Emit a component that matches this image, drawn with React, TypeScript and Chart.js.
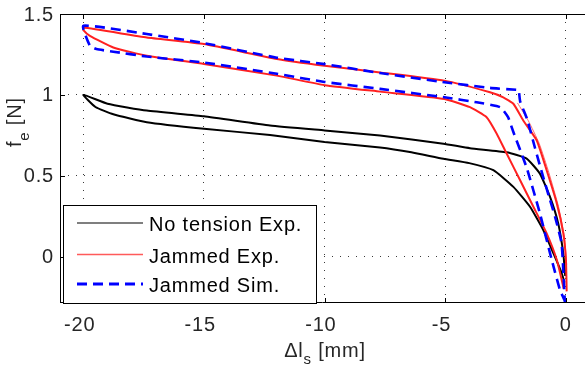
import React, { useEffect, useRef } from 'react';
import { Chart, registerables } from 'chart.js';

Chart.register(...registerables);

// ---- data ----
const xTicks = [-20, -15, -10, -5, 0];
const xTickLabels = ['-20', '-15', '-10', '-5', '0'];
const yTicks = [0, 0.5, 1, 1.5];
const yTickLabels = ['0', '0.5', '1', '1.5'];

const seriesLabels = ['No tension Exp.', 'Jammed Exp.', 'Jammed Sim.'];

const noTensionX = [-0.05, -0.17, -0.51, -0.93, -1.48, -2.17, -3.0, -4.0, -5.07, -6.4, -7.7, -10, -12.26, -15, -17.37, -18.76, -19.5, -20,
  -19, -17.37, -15, -12.26, -10, -7.7, -5.07, -3.97, -2.45, -1.62, -1.07, -0.65, -0.31, -0.1, -0.02];
const noTensionY = [-0.16, -0.1, 0.02, 0.164, 0.308, 0.431, 0.534, 0.578, 0.605, 0.645, 0.675, 0.708, 0.752, 0.79, 0.831, 0.88, 0.925, 1.0,
  0.945, 0.903, 0.868, 0.811, 0.78, 0.749, 0.698, 0.67, 0.645, 0.606, 0.513, 0.369, 0.205, 0.02, -0.12];

const jammedExpX = [-0.08, -0.37, -0.79, -1.34, -1.89, -2.45, -2.86, -3.28, -3.97, -5.03, -7.7, -10, -11.98, -15, -17.37, -18.76, -19.73, -20,
  -20, -17.37, -15, -11.98, -10, -7.7, -5.03, -3.14, -2.59, -2.17, -1.76, -1.2, -0.79, -0.37, -0.1, 0.01, 0.04];
const jammedExpY = [-0.2, -0.02, 0.144, 0.308, 0.472, 0.637, 0.76, 0.862, 0.924, 0.975, 1.02, 1.06, 1.119, 1.191, 1.242, 1.293, 1.365, 1.40,
  1.416, 1.355, 1.314, 1.222, 1.18, 1.139, 1.088, 1.016, 0.985, 0.945, 0.842, 0.718, 0.534, 0.329, 0.144, -0.02, -0.215];

const jammedExp2X = [-2.0, -1.55, -1.1, -0.7, -0.3, -0.05, 0.04];
const jammedExp2Y = [0.95, 0.84, 0.7, 0.52, 0.31, 0.12, -0.05];

const jammedSimX = [-0.03, -0.17, -0.44, -0.65, -0.93, -1.27, -1.6, -1.89, -1.95, -2.03, -3.14, -5.03, -7.7, -10, -11.98, -15, -17.37, -20,
  -19.73, -19.46, -18.76, -17.37, -15, -11.98, -10, -7.7, -5.03, -3.69, -2.72, -2.39, -2.17, -1.62, -1.07, -0.58, -0.24, -0.05];
const jammedSimY = [-0.3, 0.08, 0.246, 0.35, 0.49, 0.67, 0.85, 0.96, 1.03, 1.031, 1.043, 1.078, 1.135, 1.19, 1.23, 1.32, 1.376, 1.427,
  1.304, 1.283, 1.267, 1.237, 1.2, 1.13, 1.08, 1.037, 0.985, 0.954, 0.924, 0.862, 0.77, 0.55, 0.267, -0.02, -0.205, -0.27];

const pts = (xs: number[], ys: number[]) => xs.map((x, i) => ({ x, y: ys[i] }));

const FONT = '"Liberation Sans", Arial, Helvetica, sans-serif';

const decor = {
  id: 'decor',
  afterDatasetsDraw(chart: any) {
    const { ctx, chartArea: a, scales } = chart;
    const x = scales.x;
    const y = scales.y;
    ctx.save();
    // axes box
    ctx.strokeStyle = '#000';
    ctx.lineWidth = 1;
    ctx.setLineDash([]);
    ctx.beginPath();
    ctx.moveTo(a.left + 0.5, a.top + 0.5);
    ctx.lineTo(a.right, a.top + 0.5);
    ctx.moveTo(a.left + 0.5, a.top);
    ctx.lineTo(a.left + 0.5, a.bottom);
    ctx.moveTo(a.left, a.bottom - 0.5);
    ctx.lineTo(a.right, a.bottom - 0.5);
    ctx.stroke();
    // inward ticks
    ctx.beginPath();
    xTicks.forEach((v) => {
      const px = Math.round(x.getPixelForValue(v)) + 0.5;
      ctx.moveTo(px, a.bottom);
      ctx.lineTo(px, a.bottom - 5);
      ctx.moveTo(px, a.top);
      ctx.lineTo(px, a.top + 5);
    });
    yTicks.forEach((v) => {
      const py = Math.round(y.getPixelForValue(v)) + 0.5;
      ctx.moveTo(a.left, py);
      ctx.lineTo(a.left + 5, py);
    });
    ctx.stroke();

    // legend
    const lx = 63, ly = 205, lw = 253, lh = 98;
    ctx.fillStyle = '#fff';
    ctx.fillRect(lx, ly, lw, lh);
    ctx.strokeStyle = '#000';
    ctx.lineWidth = 1;
    ctx.strokeRect(lx + 0.5, ly + 0.5, lw, lh);
    const rowsY = [223, 254.5, 284];
    const ds = chart.data.datasets;
    ctx.font = `20px ${FONT}`;
    (ctx as any).letterSpacing = '0.8px';
    ctx.textBaseline = 'alphabetic';
    ctx.textAlign = 'left';
    seriesLabels.forEach((label, i) => {
      const d = ds.find((dd: any) => dd.label === label);
      ctx.save();
      ctx.strokeStyle = i === 1 ? '#ff5a5a' : d.borderColor;
      ctx.lineWidth = i === 0 ? 1.2 : i === 1 ? 1.6 : 3;
      ctx.setLineDash(d.borderDash || []);
      ctx.beginPath();
      ctx.moveTo(77, rowsY[i]);
      ctx.lineTo(143, rowsY[i]);
      ctx.stroke();
      ctx.restore();
      ctx.fillStyle = '#000';
      ctx.fillText(label, 149, rowsY[i] + 8);
    });

    // tick labels
    ctx.fillStyle = '#262626';
    xTicks.forEach((v, i) => {
      const px = x.getPixelForValue(v);
      const s = xTickLabels[i];
      const neg = s.startsWith('-');
      const digits = neg ? s.slice(1) : s;
      const dw = ctx.measureText(digits).width;
      const mw = neg ? ctx.measureText('-').width : 0;
      ctx.textAlign = 'left';
      ctx.fillText(s, px - dw / 2 - mw, 331);
    });
    ctx.textAlign = 'right';
    ctx.textBaseline = 'middle';
    yTicks.forEach((v, i) => {
      const py = y.getPixelForValue(v);
      ctx.fillText(yTickLabels[i], 54, py + 1);
    });

    // axis titles
    ctx.textBaseline = 'alphabetic';
    ctx.textAlign = 'left';
    ctx.fillStyle = '#262626';
    // x title: Δl_s [mm]
    const main1 = '\u0394l';
    const sub1 = 's';
    const rest1 = ' [mm]';
    ctx.font = `20px ${FONT}`;
    const w1 = ctx.measureText(main1).width;
    const w3 = ctx.measureText(rest1).width;
    ctx.font = `15px ${FONT}`;
    const w2 = ctx.measureText(sub1).width;
    const total = w1 + w2 + w3;
    let sx = (a.left + 590) / 2 - total / 2;
    ctx.font = `20px ${FONT}`;
    ctx.fillText(main1, sx, 357);
    ctx.font = `15px ${FONT}`;
    ctx.fillText(sub1, sx + w1, 364);
    ctx.font = `20px ${FONT}`;
    ctx.fillText(rest1, sx + w1 + w2, 357);

    // y title: f_e [N]
    ctx.save();
    ctx.translate(21, 147);
    ctx.rotate(-Math.PI / 2);
    ctx.font = `20px ${FONT}`;
    const fw = ctx.measureText('f').width;
    ctx.fillText('f', 0, 0);
    ctx.font = `15px ${FONT}`;
    const ew = ctx.measureText('e').width;
    ctx.fillText('e', fw, 8);
    ctx.font = `20px ${FONT}`;
    ctx.fillText(' [N]', fw + ew, 0);
    ctx.restore();

    ctx.restore();
  },
};

export default function App() {
  const ref = useRef<HTMLCanvasElement | null>(null);
  useEffect(() => {
    document.body.style.margin = '0';
    const canvas = ref.current;
    if (!canvas) return;
    const gridCommon = { color: '#3a3a3a', lineWidth: 1, drawTicks: false };
    const chart = new Chart(canvas, {
      type: 'line',
      data: {
        datasets: [
          {
            label: 'Jammed Sim.',
            data: pts(jammedSimX, jammedSimY),
            borderColor: '#0000ff',
            borderWidth: 2.6,
            borderDash: [10, 6],
            pointRadius: 0,
            fill: false,
            order: 0,
          },
          {
            label: 'Jammed Exp.',
            data: pts(jammedExpX, jammedExpY),
            borderColor: '#ff2020',
            borderWidth: 2,
            pointRadius: 0,
            fill: false,
            order: 1,
          },
          {
            label: 'Jammed Exp. (repeat)',
            data: pts(jammedExp2X, jammedExp2Y),
            borderColor: '#ff6a6a',
            borderWidth: 1,
            pointRadius: 0,
            fill: false,
            order: 2,
          },
          {
            label: 'No tension Exp.',
            data: pts(noTensionX, noTensionY),
            borderColor: '#000000',
            borderWidth: 2,
            pointRadius: 0,
            fill: false,
            order: 3,
          },
        ],
      },
      options: {
        responsive: false,
        animation: false,
        devicePixelRatio: 1,
        layout: { padding: { top: 14, right: 0, left: 0, bottom: 0 } },
        plugins: { legend: { display: false }, tooltip: { enabled: false } },
        elements: { point: { radius: 0 }, line: { tension: 0.15 } },
        scales: {
          x: {
            type: 'linear',
            min: -20.97,
            max: 0.8,
            afterFit: (s: any) => { s.height = 64; },
            afterBuildTicks: (s: any) => { s.ticks = xTicks.map((v) => ({ value: v })); },
            ticks: { display: false },
            grid: gridCommon,
            border: { display: false, dash: [1, 7] },
          },
          y: {
            type: 'linear',
            min: -0.287,
            max: 1.5,
            afterFit: (s: any) => { s.width = 60; },
            afterBuildTicks: (s: any) => { s.ticks = yTicks.map((v) => ({ value: v })); },
            ticks: { display: false },
            grid: gridCommon,
            border: { display: false, dash: [1, 7] },
          },
        },
      },
      plugins: [decor],
    } as any);
    return () => chart.destroy();
  }, []);
  return <canvas ref={ref} width={585} height={367} style={{ display: 'block' }} />;
}
